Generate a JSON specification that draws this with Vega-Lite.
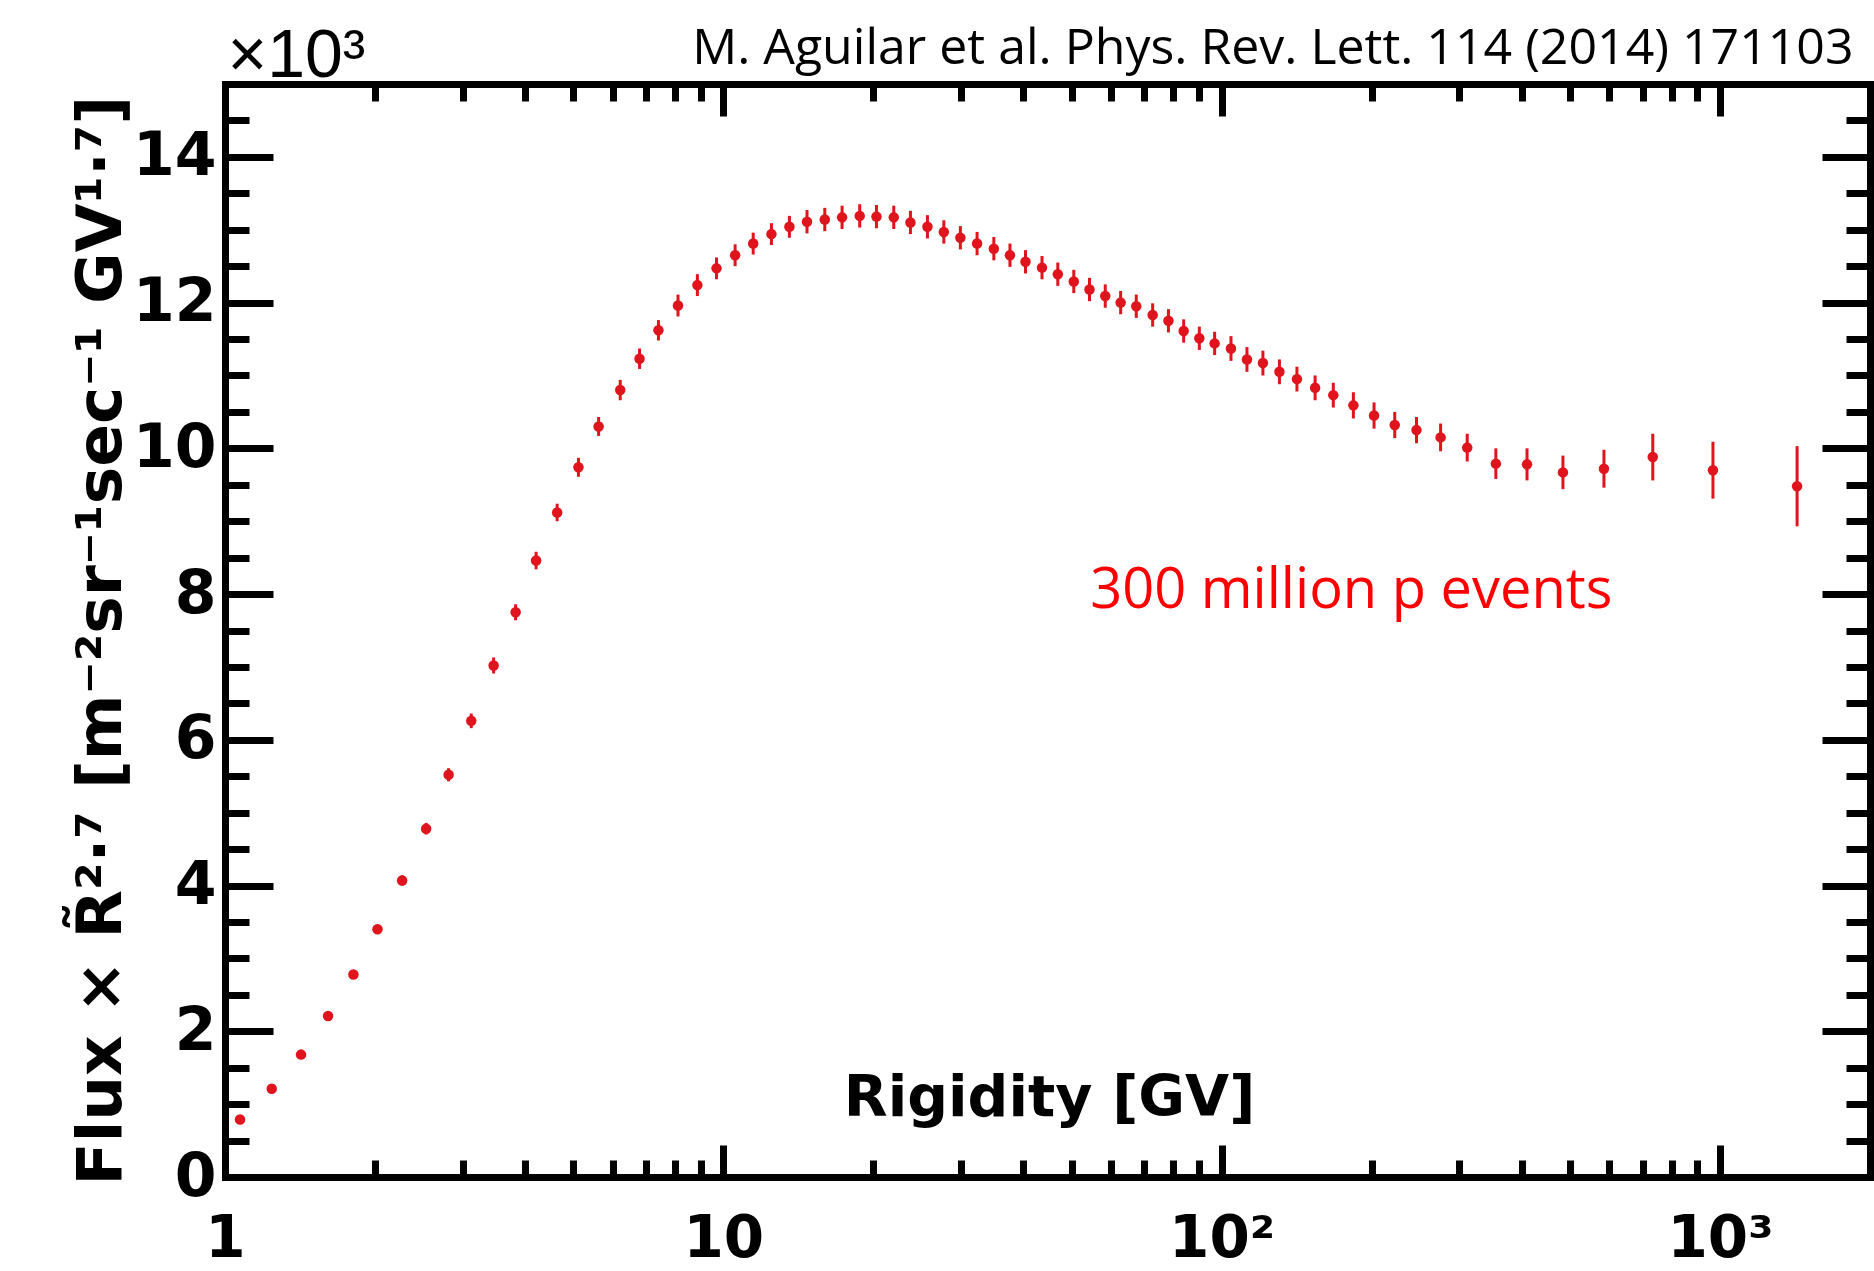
{
  "$schema": "https://vega.github.io/schema/vega-lite/v6.json",
  "width": 1645,
  "height": 1093,
  "autosize": {"type": "none"},
  "padding": {"left": 225, "top": 84, "right": 4, "bottom": 94},
  "background": "white",
  "config": {"view": {"stroke": null}, "axis": {"grid": false}},
  "data": {
    "values": [
      {"R": 1.072, "v": 0.79, "e": 0.04},
      {"R": 1.241, "v": 1.21, "e": 0.04},
      {"R": 1.421, "v": 1.68, "e": 0.05},
      {"R": 1.61, "v": 2.21, "e": 0.05},
      {"R": 1.81, "v": 2.78, "e": 0.06},
      {"R": 2.023, "v": 3.40, "e": 0.06},
      {"R": 2.267, "v": 4.07, "e": 0.07},
      {"R": 2.533, "v": 4.78, "e": 0.08},
      {"R": 2.81, "v": 5.52, "e": 0.09},
      {"R": 3.12, "v": 6.26, "e": 0.10},
      {"R": 3.46, "v": 7.02, "e": 0.11},
      {"R": 3.83, "v": 7.75, "e": 0.11},
      {"R": 4.21, "v": 8.46, "e": 0.12},
      {"R": 4.64, "v": 9.12, "e": 0.12},
      {"R": 5.12, "v": 9.74, "e": 0.13},
      {"R": 5.62, "v": 10.30, "e": 0.13},
      {"R": 6.21, "v": 10.80, "e": 0.14},
      {"R": 6.79, "v": 11.23, "e": 0.14},
      {"R": 7.41, "v": 11.62, "e": 0.14},
      {"R": 8.11, "v": 11.96, "e": 0.15},
      {"R": 8.87, "v": 12.24, "e": 0.15},
      {"R": 9.69, "v": 12.47, "e": 0.15},
      {"R": 10.56, "v": 12.65, "e": 0.15},
      {"R": 11.48, "v": 12.81, "e": 0.15},
      {"R": 12.49, "v": 12.94, "e": 0.15},
      {"R": 13.57, "v": 13.04, "e": 0.15},
      {"R": 14.72, "v": 13.11, "e": 0.16},
      {"R": 15.98, "v": 13.14, "e": 0.16},
      {"R": 17.31, "v": 13.17, "e": 0.16},
      {"R": 18.78, "v": 13.19, "e": 0.16},
      {"R": 20.29, "v": 13.18, "e": 0.16},
      {"R": 21.98, "v": 13.17, "e": 0.16},
      {"R": 23.74, "v": 13.10, "e": 0.16},
      {"R": 25.68, "v": 13.04, "e": 0.16},
      {"R": 27.7, "v": 12.97, "e": 0.16},
      {"R": 29.9, "v": 12.89, "e": 0.16},
      {"R": 32.3, "v": 12.81, "e": 0.16},
      {"R": 34.9, "v": 12.74, "e": 0.16},
      {"R": 37.6, "v": 12.65, "e": 0.16},
      {"R": 40.4, "v": 12.56, "e": 0.16},
      {"R": 43.6, "v": 12.48, "e": 0.16},
      {"R": 46.9, "v": 12.39, "e": 0.16},
      {"R": 50.5, "v": 12.29, "e": 0.16},
      {"R": 54.3, "v": 12.18, "e": 0.16},
      {"R": 58.4, "v": 12.09, "e": 0.16},
      {"R": 62.7, "v": 12.00, "e": 0.16},
      {"R": 67.4, "v": 11.95, "e": 0.16},
      {"R": 72.7, "v": 11.83, "e": 0.16},
      {"R": 78.2, "v": 11.75, "e": 0.16},
      {"R": 83.9, "v": 11.61, "e": 0.16},
      {"R": 90.2, "v": 11.51, "e": 0.16},
      {"R": 96.8, "v": 11.44, "e": 0.16},
      {"R": 104.4, "v": 11.37, "e": 0.17},
      {"R": 112.4, "v": 11.22, "e": 0.17},
      {"R": 121, "v": 11.17, "e": 0.17},
      {"R": 130.6, "v": 11.05, "e": 0.17},
      {"R": 141.6, "v": 10.95, "e": 0.17},
      {"R": 154, "v": 10.83, "e": 0.17},
      {"R": 167.5, "v": 10.73, "e": 0.17},
      {"R": 183.8, "v": 10.59, "e": 0.18},
      {"R": 202.2, "v": 10.45, "e": 0.18},
      {"R": 222.5, "v": 10.32, "e": 0.18},
      {"R": 246, "v": 10.25, "e": 0.18},
      {"R": 275, "v": 10.15, "e": 0.19},
      {"R": 311, "v": 10.01, "e": 0.19},
      {"R": 355, "v": 9.79, "e": 0.21},
      {"R": 410, "v": 9.78, "e": 0.22},
      {"R": 484, "v": 9.67, "e": 0.23},
      {"R": 585, "v": 9.72, "e": 0.26},
      {"R": 733, "v": 9.88, "e": 0.32},
      {"R": 968, "v": 9.70, "e": 0.39},
      {"R": 1428, "v": 9.48, "e": 0.55}
    ]
  },
  "layer": [
    {
      "mark": {"type": "errorbar", "thickness": 3, "color": "#e0141c"},
      "encoding": {
        "x": {
          "field": "R", "type": "quantitative",
          "scale": {"type": "log", "domain": [1, 2000], "nice": false},
          "axis": {
            "orient": "top",
            "values": [1,2,3,4,5,6,7,8,9,10,20,30,40,50,60,70,80,90,100,200,300,400,500,600,700,800,900,1000,2000],
            "domain": true, "domainColor": "black", "domainWidth": 7, "domainCap": "square",
            "ticks": true, "tickColor": "black", "tickWidth": 7, "tickCap": "butt",
            "tickSize": {"condition": {"test": "datum.value == 1 || datum.value == 10 || datum.value == 100 || datum.value == 1000", "value": -32}, "value": -17},
            "labels": false, "grid": false,
            "title": "M. Aguilar et al. Phys. Rev. Lett. 114 (2014) 171103",
            "titleFont": "Open Sans", "titleFontWeight": "normal", "titleFontSize": 50, "titleColor": "black",
            "titleX": 1628, "titleY": -21, "titleAlign": "right", "titleBaseline": "alphabetic", "titleAngle": 0
          }
        },
        "y": {
          "field": "v", "type": "quantitative",
          "scale": {"domain": [0, 15], "nice": false, "zero": false},
          "axis": {
            "orient": "right",
            "values": [0,0.5,1,1.5,2,2.5,3,3.5,4,4.5,5,5.5,6,6.5,7,7.5,8,8.5,9,9.5,10,10.5,11,11.5,12,12.5,13,13.5,14,14.5],
            "domain": true, "domainColor": "black", "domainWidth": 7, "domainCap": "square",
            "ticks": true, "tickColor": "black", "tickWidth": 7, "tickCap": "butt",
            "tickSize": {"condition": {"test": "datum.value % 2 == 0", "value": -48}, "value": -24},
            "labels": false, "grid": false,
            "title": "×10³",
            "titleFont": "Liberation Sans", "titleFontWeight": "normal", "titleFontSize": 68, "titleColor": "black",
            "titleX": -1643, "titleY": -8, "titleAlign": "left", "titleBaseline": "alphabetic", "titleAngle": 0
          }
        },
        "yError": {"field": "e"}
      }
    },
    {
      "mark": {"type": "circle", "size": 110, "color": "#e0141c", "opacity": 1},
      "encoding": {
        "x": {
          "field": "R", "type": "quantitative",
          "axis": {
            "orient": "bottom",
            "values": [1,2,3,4,5,6,7,8,9,10,20,30,40,50,60,70,80,90,100,200,300,400,500,600,700,800,900,1000,2000],
            "domain": true, "domainColor": "black", "domainWidth": 7, "domainCap": "square",
            "ticks": true, "tickColor": "black", "tickWidth": 7, "tickCap": "butt",
            "tickSize": {"condition": {"test": "datum.value == 1 || datum.value == 10 || datum.value == 100 || datum.value == 1000", "value": -32}, "value": -17},
            "labelExpr": "datum.value == 1 ? '1' : datum.value == 10 ? '10' : datum.value == 100 ? '10²' : datum.value == 1000 ? '10³' : ''",
            "labelFont": "DejaVu Sans", "labelFontWeight": "bold", "labelFontSize": 58, "labelColor": "black",
            "labelBaseline": "alphabetic", "labelAlign": "center", "labelPadding": 111,
            "labelOverlap": false, "labelFlush": false, "labelBound": false,
            "grid": false,
            "title": "Rigidity [GV]",
            "titleFont": "DejaVu Sans", "titleFontWeight": "bold", "titleFontSize": 57, "titleColor": "black",
            "titleX": 824, "titleY": -62, "titleAlign": "center", "titleBaseline": "alphabetic", "titleAngle": 0
          }
        },
        "y": {
          "field": "v", "type": "quantitative",
          "axis": {
            "orient": "left",
            "values": [0,0.5,1,1.5,2,2.5,3,3.5,4,4.5,5,5.5,6,6.5,7,7.5,8,8.5,9,9.5,10,10.5,11,11.5,12,12.5,13,13.5,14,14.5],
            "domain": true, "domainColor": "black", "domainWidth": 7, "domainCap": "square",
            "ticks": true, "tickColor": "black", "tickWidth": 7, "tickCap": "butt",
            "tickSize": {"condition": {"test": "datum.value % 2 == 0", "value": -48}, "value": -24},
            "labelExpr": "datum.value % 2 == 0 ? format(datum.value, 'd') : ''",
            "labelFont": "DejaVu Sans", "labelFontWeight": "bold", "labelFontSize": 60, "labelColor": "black",
            "labelAlign": "right", "labelBaseline": "middle", "labelPadding": 57,
            "labelOverlap": false, "labelFlush": false, "labelBound": false,
            "grid": false,
            "title": "Flux × R̃²·⁷  [m⁻²sr⁻¹sec⁻¹ GV¹·⁷]",
            "titleFont": "DejaVu Sans", "titleFontWeight": "bold", "titleFontSize": 63, "titleColor": "black",
            "titleX": -105, "titleY": 556, "titleAlign": "center", "titleBaseline": "alphabetic", "titleAngle": -90
          }
        }
      }
    },
    {
      "data": {"values": [{"label": "300 million p events"}]},
      "mark": {"type": "text", "font": "Open Sans", "fontSize": 56, "color": "#ff0000", "align": "center", "baseline": "alphabetic"},
      "encoding": {
        "x": {"datum": 182, "type": "quantitative", "axis": null},
        "y": {"datum": 7.81, "type": "quantitative", "axis": null},
        "text": {"field": "label"}
      }
    }
  ],
  "resolve": {"axis": {"x": "independent", "y": "independent"}}
}
